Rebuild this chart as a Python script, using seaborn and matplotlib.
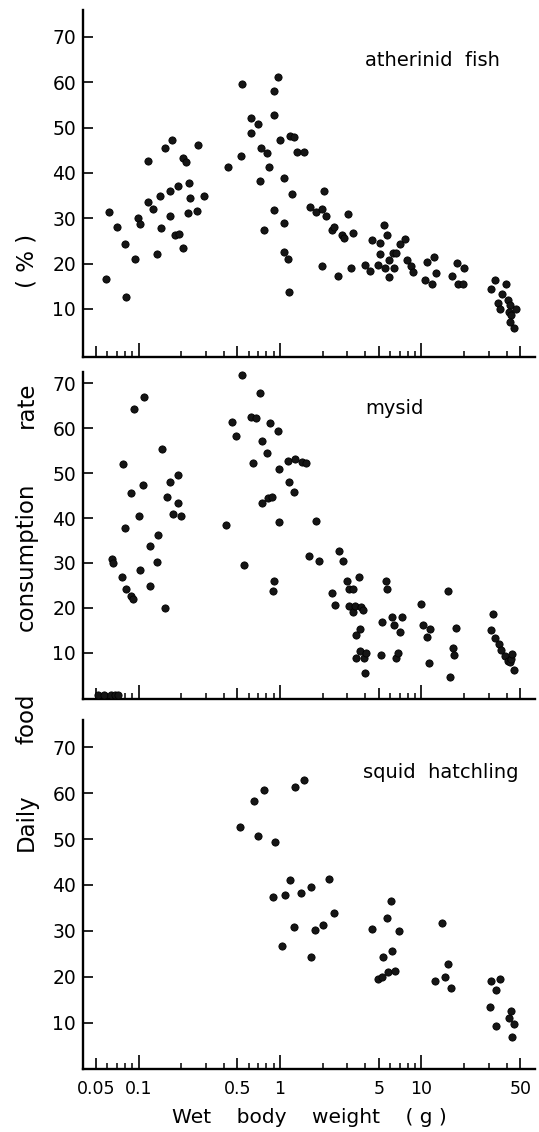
import matplotlib
matplotlib.use('Agg')
import matplotlib.pyplot as plt
import numpy as np
import pandas as pd
import seaborn as sns

# ---------------------------------------------------------
# Data (wet body weight g, daily rate %)
# ---------------------------------------------------------
fish_weight = [0.059, 0.062, 0.070, 0.080, 0.081, 0.095, 0.099, 0.103, 0.116, 0.116,
               0.126, 0.134, 0.142, 0.145, 0.154, 0.167, 0.168, 0.173, 0.182, 0.190,
               0.192, 0.206, 0.206, 0.215, 0.222, 0.228, 0.230, 0.258, 0.264, 0.292,
               0.43, 0.53, 0.54, 0.62, 0.62, 0.70, 0.72, 0.74, 0.77, 0.81,
               0.84, 0.90, 0.90, 0.91, 0.97, 1.00, 1.06, 1.06, 1.06, 1.13,
               1.16, 1.18, 1.22, 1.26, 1.32, 1.49, 1.63, 1.79, 1.97, 1.98,
               2.06, 2.13, 2.34, 2.42, 2.57, 2.75, 2.85, 3.04, 3.17, 3.29,
               4.00, 4.34, 4.49, 4.97, 5.08, 5.08, 5.45, 5.54, 5.75, 5.88,
               5.91, 6.28, 6.38, 6.66, 7.03, 7.62, 7.92, 8.41, 8.78, 10.6,
               11.0, 11.8, 12.2, 12.7, 16.4, 17.7, 18.0, 19.6, 19.9, 31.2,
               33.3, 34.8, 35.7, 39.6, 37.1, 40.7, 42.0, 41.9, 43.2, 42.4,
               46.3, 45.1]
fish_rate = [16.5, 31.4, 28.1, 24.3, 12.6, 21.1, 30.0, 28.7, 42.7, 33.6,
             32.0, 22.2, 35.0, 27.8, 45.5, 36.1, 30.4, 47.2, 26.2, 37.2,
             26.5, 23.4, 43.2, 42.3, 31.1, 37.8, 34.5, 31.7, 46.2, 35.0,
             41.2, 43.8, 59.5, 52.1, 48.8, 50.7, 38.3, 45.4, 27.5, 44.3,
             41.4, 58.1, 52.7, 31.8, 61.2, 47.2, 38.8, 28.9, 22.6, 21.0,
             13.7, 48.2, 35.3, 47.9, 44.7, 44.6, 32.5, 31.4, 32.1, 19.5,
             36.1, 30.6, 27.3, 28.1, 17.3, 26.2, 25.7, 30.9, 19.1, 26.8,
             19.6, 18.3, 25.1, 19.6, 24.5, 22.2, 28.5, 19.1, 26.2, 20.9,
             17.0, 22.3, 19.1, 22.3, 24.4, 25.4, 20.9, 19.5, 18.1, 16.4,
             20.4, 15.4, 21.5, 17.9, 17.3, 20.1, 15.4, 15.6, 19.0, 14.3,
             16.3, 11.4, 9.9, 15.6, 13.2, 12.0, 10.8, 9.4, 8.6, 7.1,
             9.9, 5.7]

mysid_weight = [0.052, 0.057, 0.064, 0.068, 0.072,
                0.065, 0.066, 0.076, 0.078, 0.080, 0.081, 0.088, 0.089, 0.091, 0.093,
                0.100, 0.103, 0.108, 0.109, 0.121, 0.121, 0.136, 0.138, 0.147, 0.155,
                0.160, 0.168, 0.174, 0.189, 0.189, 0.200,
                0.417, 0.457, 0.491, 0.542, 0.553, 0.624, 0.644, 0.680, 0.726, 0.742,
                0.746, 0.814, 0.818, 0.850, 0.883, 0.897, 0.912, 0.973, 0.984, 0.989,
                1.14, 1.16, 1.25, 1.28, 1.42, 1.53, 1.60, 1.79, 1.88,
                2.32, 2.45, 2.63, 2.78, 3.00, 3.09, 3.30, 3.09, 3.27, 3.41,
                3.45, 3.45, 3.62, 3.66, 3.68, 3.74, 3.87, 3.95, 3.97, 4.06,
                5.15, 5.27, 5.62, 5.71, 6.23, 6.44, 6.62, 6.84, 7.07, 7.26,
                10.0, 10.2, 10.9, 11.4, 11.3, 15.5, 15.9, 16.8, 16.9, 17.6,
                31.8, 30.8, 33.2, 35.6, 36.4, 38.9, 40.8, 42.0, 42.9, 44.0,
                45.3]
mysid_rate = [0.6, 0.6, 0.6, 0.6, 0.6,
              30.9, 30.0, 26.9, 52.1, 37.8, 24.1, 22.6, 45.6, 22.0, 64.3,
              40.5, 28.4, 47.3, 66.9, 33.8, 24.9, 30.2, 36.2, 55.4, 19.9,
              44.6, 48.0, 40.8, 43.3, 49.7, 40.4,
              38.5, 61.4, 58.3, 71.8, 29.5, 62.5, 52.2, 62.3, 67.8, 57.1,
              43.3, 54.6, 44.5, 61.1, 44.8, 23.7, 26.0, 59.4, 39.2, 50.9,
              52.7, 48.0, 45.7, 53.1, 52.5, 52.3, 31.5, 39.4, 30.5,
              23.3, 20.6, 32.7, 30.5, 25.9, 24.1, 24.1, 20.5, 19.1, 20.4,
              8.8, 13.9, 26.9, 10.4, 15.3, 20.2, 19.4, 8.8, 5.5, 9.85,
              9.55, 16.9, 25.9, 24.3, 18.0, 16.1, 8.9, 9.85, 14.6, 17.9,
              20.9, 16.1, 13.5, 15.3, 7.6, 23.7, 4.6, 11.0, 9.5, 15.5,
              18.6, 15.0, 13.2, 11.9, 10.7, 9.3, 8.2, 8.0, 8.7, 9.7,
              6.1]

squid_weight = [0.520, 0.654, 0.698, 0.774, 0.887, 0.917, 1.03, 1.08, 1.17, 1.26,
                1.28, 1.41, 1.49, 1.66, 1.67, 1.77, 2.00, 2.23, 2.42,
                4.47, 4.93, 5.29, 5.32, 5.74, 5.80, 6.13, 6.23, 6.47, 6.98,
                12.4, 13.9, 14.7, 15.5, 16.3,
                30.4, 31.2, 33.5, 33.5, 35.9, 41.4, 43.0, 43.5, 45.4]
squid_rate = [52.7, 58.3, 50.7, 60.8, 37.3, 49.3, 26.7, 37.9, 41.0, 30.8,
              61.4, 38.2, 62.9, 39.5, 24.3, 30.2, 31.3, 41.3, 33.9,
              30.4, 19.5, 20.0, 24.3, 32.8, 21.0, 36.5, 25.6, 21.3, 29.9,
              19.1, 31.8, 19.9, 22.7, 17.5,
              13.3, 19.1, 17.0, 9.3, 19.6, 10.9, 12.5, 6.9, 9.7]

panel_names = ['atherinid  fish', 'mysid', 'squid  hatchling']
y_ticks = [10, 20, 30, 40, 50, 60, 70]
x_major = [0.05, 0.1, 0.5, 1, 5, 10, 50]
x_major_labels = ['0.05', '0.1', '0.5', '1', '5', '10', '50']
x_minor = [0.06, 0.07, 0.08, 0.09, 0.2, 0.3, 0.4, 0.6, 0.7, 0.8, 0.9,
           2, 3, 4, 6, 7, 8, 9, 20, 30, 40]
decades = [0.1, 1, 10]

sns.set_style('ticks')
plt.rcParams['font.family'] = ['DejaVu Sans']
plt.rcParams.update({'text.color': 'black', 'axes.labelcolor': 'black',
                     'xtick.color': 'black', 'ytick.color': 'black',
                     'xtick.direction': 'in', 'ytick.direction': 'in'})

fig = plt.figure(figsize=(5.39, 11.32), dpi=100)

# axes boxes (left, bottom, width, height) and y ranges per panel
boxes = [(0.154, 0.6846, 0.8386, 0.3065),
         (0.154, 0.3822, 0.8386, 0.2894),
         (0.154, 0.0554, 0.8386, 0.3086)]
ylims = [(-0.6, 75.9), (-0.4, 72.6), (-0.2, 76.0)]
text_pos = [(0.624, 0.856), (0.624, 0.889), (0.619, 0.851)]

series = [(fish_weight, fish_rate), (mysid_weight, mysid_rate), (squid_weight, squid_rate)]

for i, (w, r) in enumerate(series):
    ax = fig.add_axes(boxes[i])
    df = pd.DataFrame({'weight': w, 'rate': r})
    sns.scatterplot(data=df, x='weight', y='rate', ax=ax, s=27, color='#151515',
                    edgecolor='black', linewidth=0.6, clip_on=False, zorder=3)
    ax.set_xscale('log')
    ax.set_xlim(0.0405, 63.5)
    ax.set_ylim(*ylims[i])
    ax.set_xticks(x_major)
    ax.set_xticks(x_minor, minor=True)
    ax.set_yticks(y_ticks)
    ax.set_yticklabels([str(v) for v in y_ticks])
    if i == 2:
        ax.set_xticklabels(x_major_labels)
        ax.set_xlabel('Wet    body    weight    ( g )', fontsize=14.5, labelpad=7)
    else:
        ax.set_xticklabels([])
        ax.set_xlabel('')
    ax.set_ylabel('')
    ax.tick_params(axis='x', which='major', direction='in', length=8, width=1.2,
                   labelsize=12.5, pad=8)
    ax.tick_params(axis='x', which='minor', direction='in', length=4.5, width=1.1)
    ax.tick_params(axis='y', which='major', direction='in', length=7, width=1.2,
                   labelsize=13.5, pad=5)
    ax.tick_params(axis='y', which='minor', left=False)
    # decade ticks drawn a bit longer
    for tick, loc in zip(ax.xaxis.get_major_ticks(), x_major):
        if loc in decades:
            tick.tick1line.set_markersize(10)
    for side in ['top', 'right']:
        ax.spines[side].set_visible(False)
    for side in ['left', 'bottom']:
        ax.spines[side].set_linewidth(1.7)
        ax.spines[side].set_color('black')
    ax.text(text_pos[i][0], text_pos[i][1], panel_names[i], transform=ax.transAxes,
            ha='left', va='center', fontsize=14)

# y label, word by word along the left edge
ylabel_words = ['( % )', 'rate', 'consumption', 'food', 'Daily']
ylabel_centers = [261, 405, 557, 719, 822]
for word, yc in zip(ylabel_words, ylabel_centers):
    fig.text(33 / 539, 1 - yc / 1132, word, rotation=90, rotation_mode='anchor',
             ha='center', va='baseline', fontsize=16.5)

fig.savefig('out.png', dpi=100)
plt.close(fig)
